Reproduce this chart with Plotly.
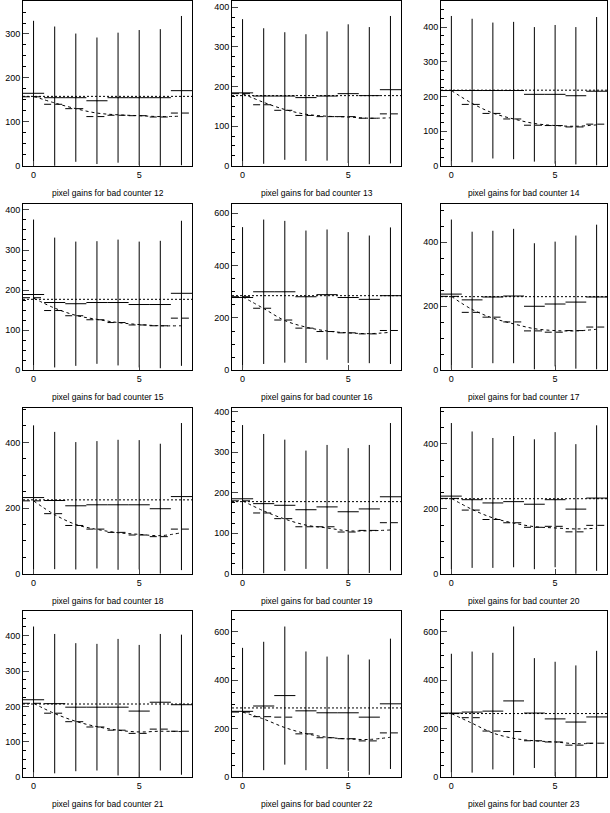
import plotly.graph_objects as go

# pixel gains per bad counter, 8 pixels each
counters = [12, 13, 14, 15, 16, 17, 18, 19, 20, 21, 22, 23]
pixels = [0, 1, 2, 3, 4, 5, 6, 7]

gains = [
    [165, 155, 155, 148, 155, 155, 155, 171],
    [184, 176, 176, 172, 176, 182, 177, 192],
    [217, 217, 217, 217, 206, 206, 202, 215],
    [189, 169, 166, 169, 169, 164, 164, 192],
    [278, 300, 300, 281, 289, 278, 271, 285],
    [238, 220, 229, 232, 200, 207, 213, 229],
    [232, 223, 207, 210, 210, 210, 198, 235],
    [185, 173, 169, 158, 165, 153, 160, 190],
    [239, 228, 218, 222, 214, 228, 199, 233],
    [219, 208, 198, 198, 198, 187, 212, 205],
    [272, 294, 337, 274, 266, 266, 248, 303],
    [264, 268, 272, 314, 264, 240, 227, 248],
]

gain_errors = [
    [165, 162, 146, 144, 148, 154, 156, 170],
    [186, 171, 161, 160, 163, 175, 173, 186],
    [215, 207, 196, 198, 194, 200, 198, 214],
    [187, 162, 155, 153, 157, 157, 159, 181],
    [269, 276, 271, 253, 249, 250, 244, 261],
    [233, 213, 207, 210, 197, 195, 208, 226],
    [220, 209, 194, 194, 198, 197, 198, 224],
    [182, 172, 162, 146, 153, 157, 158, 182],
    [225, 210, 200, 202, 200, 208, 200, 224],
    [207, 197, 181, 179, 193, 187, 193, 198],
    [262, 265, 285, 245, 232, 240, 238, 269],
    [244, 249, 240, 306, 226, 235, 233, 272],
]

mean_gains = [158, 177, 218, 177, 285, 230, 225, 178, 231, 207, 286, 262]

ref_gains = [
    [157, 140, 130, 112, 115, 114, 111, 120],
    [182, 154, 140, 127, 124, 124, 120, 131],
    [217, 177, 151, 135, 117, 116, 112, 120],
    [181, 149, 136, 126, 119, 113, 111, 130],
    [281, 237, 192, 161, 148, 143, 139, 152],
    [231, 181, 166, 151, 123, 119, 124, 135],
    [222, 183, 147, 136, 126, 118, 113, 136],
    [180, 150, 136, 116, 116, 103, 107, 126],
    [232, 196, 167, 157, 143, 146, 129, 149],
    [209, 181, 157, 142, 133, 124, 136, 130],
    [269, 250, 248, 179, 163, 159, 150, 183],
    [262, 245, 190, 188, 150, 145, 132, 140],
]

ref_curve = [
    [158, 143, 130, 120, 116, 114, 112, 113],
    [182, 160, 142, 130, 125, 123, 120, 121],
    [217, 180, 152, 135, 122, 116, 114, 118],
    [180, 155, 137, 127, 119, 114, 111, 111],
    [281, 236, 190, 165, 150, 143, 140, 145],
    [231, 190, 163, 145, 130, 124, 123, 128],
    [222, 180, 150, 135, 125, 120, 116, 125],
    [180, 155, 135, 120, 113, 106, 106, 108],
    [232, 198, 172, 156, 145, 141, 138, 140],
    [209, 180, 158, 143, 133, 128, 130, 129],
    [269, 240, 205, 180, 165, 158, 156, 165],
    [262, 222, 182, 160, 150, 145, 138, 140],
]

W, H = 610, 813
col_left = [23, 232, 441]
col_right = [192, 401, 607]
row_top = [0, 205, 410, 615]
row_bottom = [166, 372, 577, 782]
xlo, xhi = -0.5, 7.5

FONT = "Liberation Sans"
fig = go.Figure()
annotations = []

for i, counter in enumerate(counters):
    r, c = divmod(i, 3)
    n = i + 1
    xa = "x" if n == 1 else "x%d" % n
    ya = "y" if n == 1 else "y%d" % n

    # measured gains with errors
    fig.add_trace(go.Scatter(
        x=pixels, y=gains[i], mode="markers",
        marker=dict(size=1, color="black"),
        error_x=dict(type="constant", value=0.5, width=0, thickness=1, color="black"),
        error_y=dict(type="data", array=gain_errors[i], width=0, thickness=1, color="black"),
        xaxis=xa, yaxis=ya, showlegend=False,
    ))

    # mean gain
    fig.add_trace(go.Scatter(
        x=[xlo, xhi], y=[mean_gains[i], mean_gains[i]], mode="lines",
        line=dict(color="black", width=1, dash="2px,2px"),
        xaxis=xa, yaxis=ya, showlegend=False,
    ))

    # reference histogram (dashed bins)
    hx, hy = [], []
    for p, v in zip(pixels, ref_gains[i]):
        hx += [p - 0.5, p + 0.5, None]
        hy += [v, v, None]
    fig.add_trace(go.Scatter(
        x=hx, y=hy, mode="lines",
        line=dict(color="black", width=1, dash="7px,4px"),
        xaxis=xa, yaxis=ya, showlegend=False,
    ))

    # reference curve
    fig.add_trace(go.Scatter(
        x=pixels, y=ref_curve[i], mode="lines",
        line=dict(color="black", width=1, dash="3px,3px", shape="spline"),
        xaxis=xa, yaxis=ya, showlegend=False,
    ))

    ymax = 1.1 * max(g + e for g, e in zip(gains[i], gain_errors[i]))
    major = 200 if ymax > 500 else 100

    fig.layout["xaxis" if n == 1 else "xaxis%d" % n] = dict(
        domain=[col_left[c] / W, col_right[c] / W], anchor=ya,
        range=[xlo, xhi], tickvals=[0, 5], ticks="inside", ticklen=5,
        showline=True, mirror=True, linecolor="black", linewidth=1,
        showgrid=False, zeroline=False,
        tickfont=dict(family=FONT, size=9, color="black"),
    )
    fig.layout["yaxis" if n == 1 else "yaxis%d" % n] = dict(
        domain=[1 - row_bottom[r] / H, 1 - row_top[r] / H], anchor=xa,
        range=[0, ymax], dtick=major, tick0=0, ticks="inside", ticklen=6,
        minor=dict(dtick=major / 4, ticks="inside", ticklen=3, tickcolor="black", showgrid=False),
        showline=True, mirror=True, linecolor="black", linewidth=1,
        showgrid=False, zeroline=False,
        tickfont=dict(family=FONT, size=9, color="black"),
    )

    annotations.append(dict(
        text="pixel gains for bad counter %d" % counter,
        x=(col_left[c] + col_right[c]) / 2 / W, y=1 - (row_bottom[r] + 27) / H,
        xref="paper", yref="paper", showarrow=False,
        xanchor="center", yanchor="middle",
        font=dict(family=FONT, size=8.5, color="black"),
    ))

fig.update_layout(
    width=W, height=H,
    margin=dict(l=0, r=0, t=0, b=0),
    paper_bgcolor="white", plot_bgcolor="white",
    annotations=annotations,
)

# page body has a default 8px margin; drop it so the figure sits at the corner
fig.write_html(
    "out.html",
    config={"displayModeBar": False},
    post_script="document.body.style.margin = '0';",
)
